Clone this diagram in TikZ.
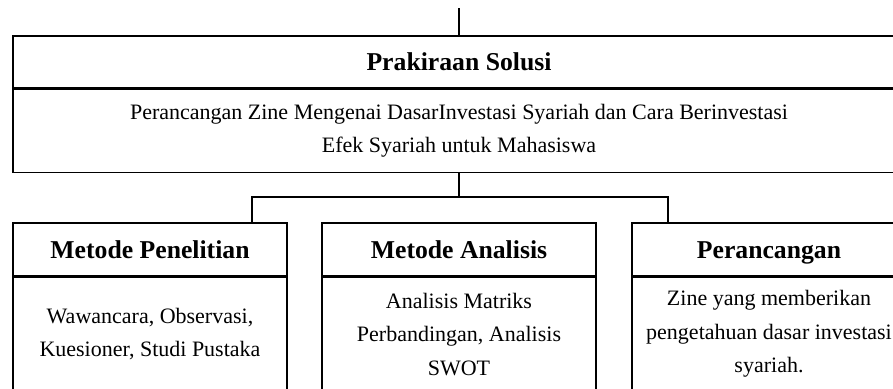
\documentclass[tikz,border=0pt]{standalone}
\usepackage{fontspec}
\setmainfont{Liberation Serif}
\usetikzlibrary{positioning}

\begin{document}
\begin{tikzpicture}[x=1pt,y=-1pt,line width=1.2pt,
        head/.style={draw,minimum width=274pt,minimum height=53pt,inner sep=0pt,
            text height=19.5pt,text depth=2.5pt,font=\bfseries\fontsize{25.7}{30}\selectfont},
        body/.style={draw,minimum width=274pt,minimum height=114pt,inner sep=0pt,
            align=center,font=\fontsize{22}{33.5}\selectfont}]
        \useasboundingbox (0,0) rectangle (893,388);
        \clip (0,0) rectangle (893,388);
        % top box
        \node[head,minimum width=892pt,minimum height=52pt] (sol) at (459,62) {Prakiraan Solusi};
        \node[body,minimum width=892pt,minimum height=83pt,below=0pt of sol] (solbody)
            {Perancangan Zine Mengenai DasarInvestasi Syariah dan Cara Berinvestasi\\Efek Syariah untuk Mahasiswa};
        % three boxes below
        \node[head] (pen) at (150,249.5) {Metode Penelitian};
        \node[body,below=0pt of pen] (penbody) {Wawancara, Observasi,\\Kuesioner, Studi Pustaka};
        \node[head] (ana) at (459,249.5) {Metode Analisis};
        \node[body,below=0pt of ana] (anabody) {Analisis Matriks\\Perbandingan, Analisis\\SWOT};
        \node[head] (ran) at (769,249.5) {Perancangan};
        \node[body,below=0pt of ran] (ranbody) {Zine yang memberikan\\pengetahuan dasar investasi\\syariah.};
        % lines
        \coordinate (top) at (459,8);
        \coordinate (jl) at (252,197); \coordinate (jr) at (668,197);
        \draw (top) -- (sol.north);
        \draw (solbody.south) -- (solbody.south |- jl);
        \draw (pen.north -| jl) -- (jl) -- (jr) -- (ran.north -| jr);
    \end{tikzpicture}
\end{document}
